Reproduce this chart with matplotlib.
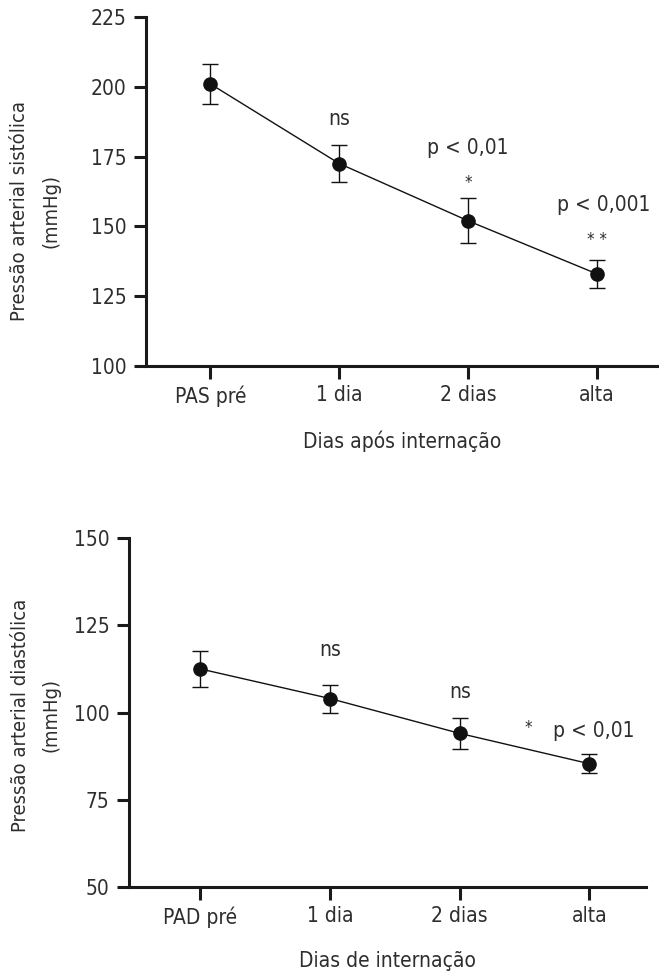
import numpy as np
import matplotlib
matplotlib.use('Agg')
import matplotlib.pyplot as plt

plt.rcParams['font.family'] = ['DejaVu Sans']
plt.rcParams['font.stretch'] = 'condensed'

# systolic pressure (top panel)
pas_labels = ['PAS pré', '1 dia', '2 dias', 'alta']
pas_mean = [201, 172.5, 152, 133]
pas_err = [7, 6.7, 8, 5]
pas_ticks = [100, 125, 150, 175, 200, 225]

# diastolic pressure (bottom panel)
pad_labels = ['PAD pré', '1 dia', '2 dias', 'alta']
pad_mean = [112.5, 104, 94, 85.3]
pad_err = [5.2, 4, 4.4, 2.7]
pad_ticks = [50, 75, 100, 125, 150]

text_col = '#2e2e2e'
fs = 15


def style_axes(ax, labels, ticks):
    x = np.arange(len(labels))
    for side in ['top', 'right']:
        ax.spines[side].set_visible(False)
    for side in ['left', 'bottom']:
        ax.spines[side].set_linewidth(2.2)
        ax.spines[side].set_color('#1a1a1a')
    ax.set_xticks(x)
    ax.set_xticklabels(labels)
    ax.set_yticks(ticks)
    ax.set_ylim(ticks[0], ticks[-1])
    ax.tick_params(axis='both', width=2.2, length=9, color='#1a1a1a',
                   labelsize=fs, labelcolor=text_col, pad=5)


fig = plt.figure(figsize=(6.59, 9.80), dpi=100)

# top panel
ax1 = fig.add_axes([0.2216, 0.6265, 0.778, 0.3562])
x = np.arange(len(pas_labels))
ax1.errorbar(x, pas_mean, yerr=pas_err, color='#111111', lw=1, marker='o',
             ms=9.5, capsize=6, elinewidth=1, capthick=1)
style_axes(ax1, pas_labels, pas_ticks)
ax1.set_xlim(-0.5, 3.48)
ax1.set_xlabel('Dias após internação', fontsize=fs, color=text_col, labelpad=17)
fig.text(35 / 659, 1 - 211 / 980, 'Pressão arterial sistólica\n(mmHg)',
         rotation=90, ha='center', va='center', fontsize=14.5,
         color=text_col, linespacing=1.8, multialignment='center')
ax1.text(1, 188.5, 'ns', ha='center', va='center', fontsize=fs, color=text_col)
ax1.text(2, 178, 'p < 0,01', ha='center', va='center', fontsize=fs, color=text_col)
ax1.text(2, 165.5, '*', ha='center', va='center', fontsize=12, color=text_col)
ax1.text(3.05, 157.7, 'p < 0,001', ha='center', va='center', fontsize=fs, color=text_col)
ax1.text(3, 145, '* *', ha='center', va='center', fontsize=12, color=text_col)

# bottom panel
ax2 = fig.add_axes([0.196, 0.0952, 0.785, 0.3555])
x = np.arange(len(pad_labels))
ax2.errorbar(x, pad_mean, yerr=pad_err, color='#111111', lw=1, marker='o',
             ms=9.5, capsize=6, elinewidth=1, capthick=1)
style_axes(ax2, pad_labels, pad_ticks)
ax2.set_xlim(-0.55, 3.44)
ax2.set_xlabel('Dias de internação', fontsize=fs, color=text_col, labelpad=17)
fig.text(36 / 659, 1 - 715 / 980, 'Pressão arterial diastólica\n(mmHg)',
         rotation=90, ha='center', va='center', fontsize=14.5,
         color=text_col, linespacing=1.8, multialignment='center')
ax2.text(1, 118, 'ns', ha='center', va='center', fontsize=fs, color=text_col)
ax2.text(2, 106, 'ns', ha='center', va='center', fontsize=fs, color=text_col)
ax2.text(2.53, 95.5, '*', ha='center', va='center', fontsize=12, color=text_col)
ax2.text(3.03, 94.6, 'p < 0,01', ha='center', va='center', fontsize=fs, color=text_col)

fig.savefig('out.png', dpi=100)
